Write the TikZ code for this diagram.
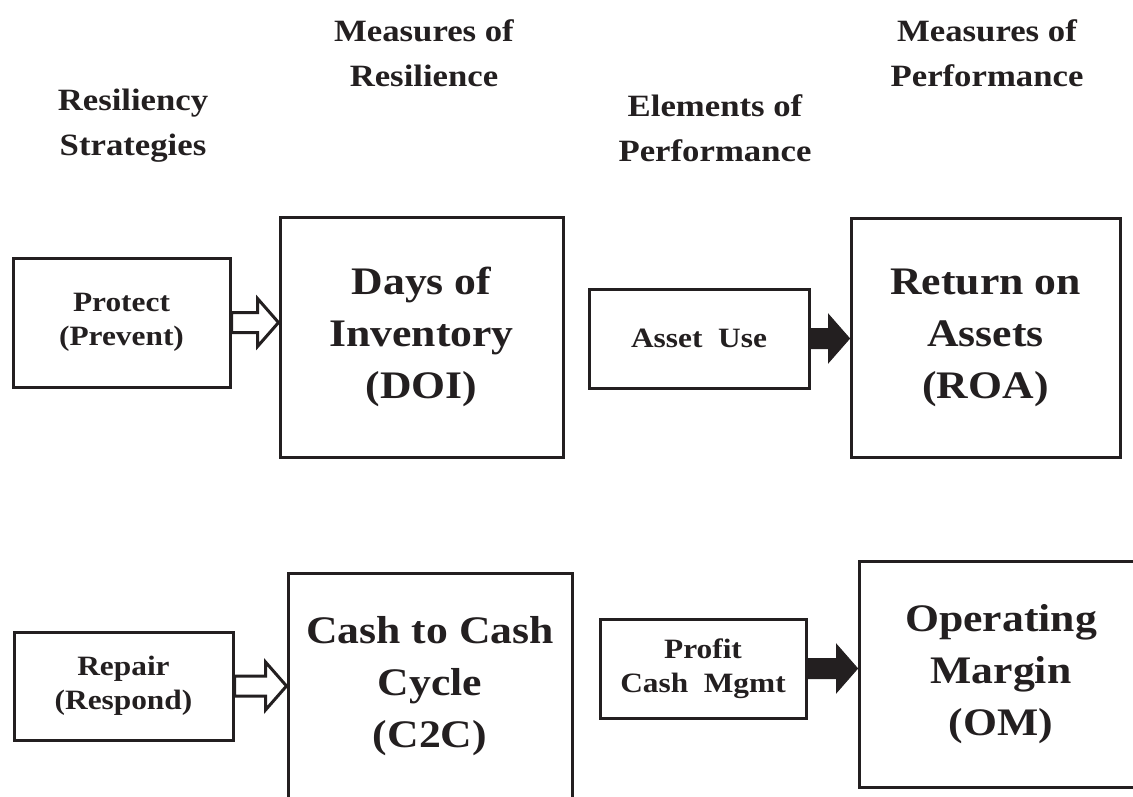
\documentclass[tikz,border=0pt]{standalone}
\usepackage{fontspec}
\setmainfont{Liberation Serif}[FakeStretch=1.12]
\usetikzlibrary{positioning,calc}
\definecolor{ink}{HTML}{231F20}

% block arrow from the east side of one node to the west side of another
\newcommand{\blockarrow}[3]{%
  \draw[#1] let \p1=(#2.east), \p2=(#3.west) in
    (\x1,\y1+10) -- (\x2-21,\y1+10) -- (\x2-21,\y1+24) -- (\x2,\y1)
    -- (\x2-21,\y1-24) -- (\x2-21,\y1-10) -- (\x1,\y1-10) -- cycle;}

\begin{document}
\begin{tikzpicture}[x=1pt, y=-1pt,
heading/.style={align=center, text=ink, font=\fontsize{31}{45}\selectfont\bfseries},
smallbox/.style={rectangle, draw=ink, line width=3pt, inner sep=0pt, align=center, text=ink, font=\fontsize{28}{34}\selectfont\bfseries},
bigbox/.style={rectangle, draw=ink, line width=3pt, inner sep=0pt, align=center, text=ink, font=\fontsize{39}{52}\selectfont\bfseries},
hollow/.style={draw=ink, line width=3pt, fill=white, line join=miter},
solid/.style={draw=ink, line width=1pt, fill=ink}
]
\useasboundingbox (0,0) rectangle (1133,796);
\node[heading] (strat) at (133,126) {Resiliency\\Strategies};
\node[heading] (resil) at (424,53) {Measures of\\Resilience};
\node[heading] (elem) at (715,128) {Elements of\\Performance};
\node[heading] (perf) at (987,53) {Measures of\\Performance};
\node[smallbox, minimum width=217, minimum height=129] (protect) at (121.5,322.5) {Protect\\(Prevent)};
\node[bigbox, minimum width=283, minimum height=240] (doi) at (421.5,337) {Days of\\Inventory\\(DOI)};
\node[smallbox, minimum width=220, minimum height=99] (asset) at (699,338.5) {Asset\ \ Use};
\node[bigbox, minimum width=269, minimum height=239] (roa) at (985.5,337.5) {Return on\\Assets\\(ROA)};
\node[smallbox, minimum width=219, minimum height=108] (repair) at (123.5,686) {Repair\\(Respond)};
\node[bigbox, minimum width=284, minimum height=227] (c2c) at (430,686.5) {Cash to Cash\\Cycle\\(C2C)};
\node[smallbox, minimum width=206, minimum height=99] (profit) at (703,668.5) {Profit\\Cash\ \ Mgmt};
\node[bigbox, minimum width=284, minimum height=226] (om) at (1001,674) {Operating\\Margin\\(OM)};
\blockarrow{hollow}{protect}{doi}
\blockarrow{hollow}{repair}{c2c}
\blockarrow{solid}{asset}{roa}
\blockarrow{solid}{profit}{om}
\end{tikzpicture}
\end{document}
